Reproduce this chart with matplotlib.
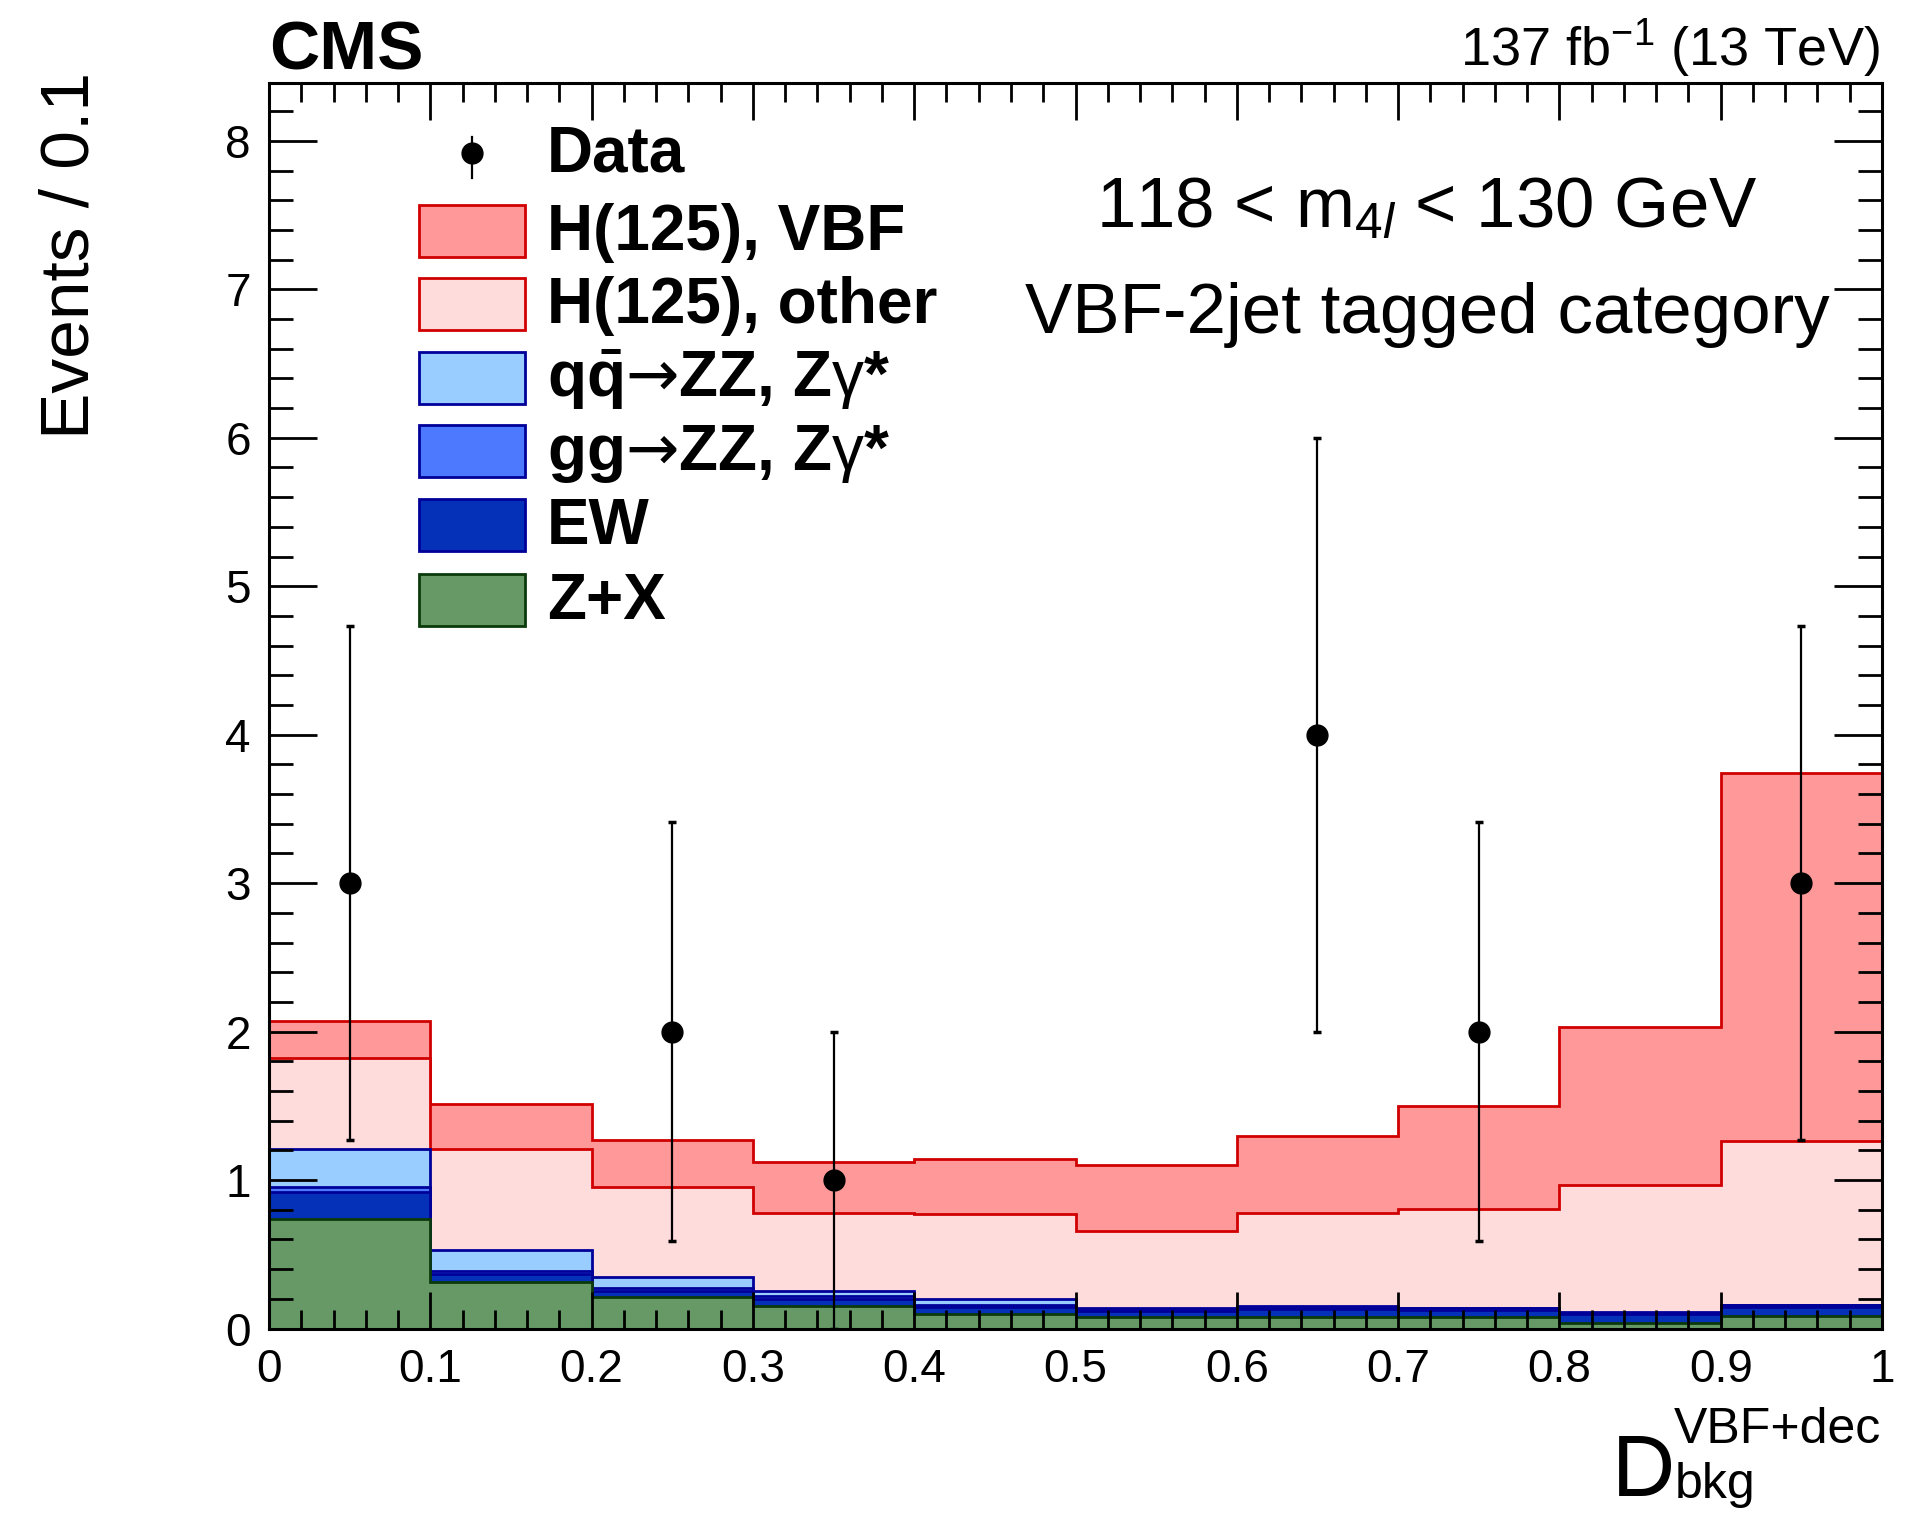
import numpy as np
import matplotlib
matplotlib.use("Agg")
import matplotlib.pyplot as plt
from matplotlib.patches import Rectangle
from matplotlib.lines import Line2D
from matplotlib.ticker import MultipleLocator, FuncFormatter

plt.rcParams['font.family'] = ['Liberation Sans', 'DejaVu Sans']
plt.rcParams['mathtext.fontset'] = 'custom'
plt.rcParams['mathtext.rm'] = 'Liberation Sans'
plt.rcParams['mathtext.it'] = 'Liberation Sans:italic'
plt.rcParams['mathtext.bf'] = 'Liberation Sans:bold'
plt.rcParams['mathtext.sf'] = 'DejaVu Sans'

# ---------------- data ----------------
bin_edges = [0.0, 0.1, 0.2, 0.3, 0.4, 0.5, 0.6, 0.7, 0.8, 0.9, 1.0]
zx    = [0.74, 0.31, 0.21, 0.15, 0.10, 0.08, 0.075, 0.08, 0.04, 0.085]
ew    = [0.18, 0.055, 0.04, 0.05, 0.045, 0.04, 0.055, 0.045, 0.055, 0.06]
gg    = [0.03, 0.02, 0.02, 0.02, 0.015, 0.01, 0.01, 0.01, 0.01, 0.01]
qq    = [0.26, 0.145, 0.08, 0.03, 0.04, 0.01, 0.01, 0.005, 0.005, 0.005]
h_other = [0.61, 0.68, 0.60, 0.53, 0.57, 0.515, 0.63, 0.665, 0.86, 1.10]
h_vbf   = [0.25, 0.30, 0.32, 0.34, 0.375, 0.445, 0.515, 0.695, 1.06, 2.485]

data_x   = [0.05, 0.25, 0.35, 0.65, 0.75, 0.95]
data_y   = [3, 2, 1, 4, 2, 3]
data_err = [1.73, 1.41, 1.0, 2.0, 1.41, 1.73]

labels = ['H(125), VBF', 'H(125), other',
          r'q$\mathbf{\bar{q}}\mathsf{→}$ZZ, Z$\mathrm{\gamma}$*',
          r'gg$\mathsf{→}$ZZ, Z$\mathrm{\gamma}$*', 'EW', 'Z+X']

# bottom -> top
components = [zx, ew, gg, qq, h_other, h_vbf]
facecolors = ['#669966', '#0431b8', '#4d79ff', '#99ccff', '#ffdcdc', '#ff9999']
edgecolors = ['#0b3a0b', '#000099', '#000099', '#000099', '#d00000', '#d00000']

W, H = 1916, 1516
fig = plt.figure(figsize=(W / 100, H / 100), dpi=100)

def fx(x):
    return x / W

def fy(y):
    return 1 - y / H

ax = fig.add_axes([fx(269), fy(1328.5), fx(1882) - fx(269), fy(83) - fy(1328.5)])

cum = np.cumsum(np.array(components, dtype=float), axis=0)
for i in range(len(components) - 1, -1, -1):
    ax.stairs(cum[i], bin_edges, baseline=0, fill=True,
              facecolor=facecolors[i], edgecolor=edgecolors[i], linewidth=2.0, zorder=1)

ax.errorbar(data_x, data_y, yerr=data_err, fmt='o', color='black', ms=15,
            elinewidth=1.6, capsize=3, capthick=2.5, zorder=5)

ax.set_xlim(0, 1)
ax.set_ylim(0, 8.39)
ax.set_axisbelow(False)
ax.xaxis.set_major_locator(MultipleLocator(0.1))
ax.xaxis.set_minor_locator(MultipleLocator(0.02))
ax.yaxis.set_major_locator(MultipleLocator(1))
ax.yaxis.set_minor_locator(MultipleLocator(0.2))
ax.xaxis.set_major_formatter(FuncFormatter(lambda v, p: f'{v:g}'))
ax.yaxis.set_major_formatter(FuncFormatter(lambda v, p: f'{v:g}'))
ax.tick_params(which='both', direction='in', top=True, right=True, width=2, color='black')
ax.tick_params(axis='x', which='major', length=26.9, pad=14, labelsize=33)
ax.tick_params(axis='x', which='minor', length=13.4)
ax.tick_params(axis='y', which='major', length=34.6, pad=13, labelsize=33)
ax.tick_params(axis='y', which='minor', length=17.3)
for s in ax.spines.values():
    s.set_linewidth(2.2)
    s.set_zorder(6)

# ---------------- texts ----------------
fig.text(fx(269), fy(69), 'CMS', fontsize=50, fontweight='bold', ha='left', va='baseline')
fig.text(fx(1880), fy(66), r'137 fb$^{\mathregular{-1}}$ (13 TeV)', fontsize=39,
         ha='right', va='baseline')
fig.text(fx(71), fy(72), 'Events / 0.1', fontsize=50, rotation=90, ha='center', va='top')

fig.text(fx(1427), fy(228), r'118 < m$_{4\mathit{l}}$ < 130 GeV', fontsize=51,
         ha='center', va='baseline')
fig.text(fx(1427), fy(333), 'VBF-2jet tagged category', fontsize=51,
         ha='center', va='baseline')

fig.text(fx(1612), fy(1496), 'D', fontsize=63, ha='left', va='baseline')
fig.text(fx(1881), fy(1443), 'VBF+dec', fontsize=36, ha='right', va='baseline')
fig.text(fx(1675), fy(1498), 'bkg', fontsize=36, ha='left', va='baseline')

# ---------------- legend ----------------
row_y = [231, 304, 378, 451, 525, 600]
box_x0, box_x1, box_h = 419, 525, 52.5
text_x = 547
legend_fs = 46
# data entry
fig.add_artist(Line2D([fx(472), fx(472)], [fy(137), fy(178)], color='black', lw=1.6))
fig.add_artist(Line2D([fx(472)], [fy(153)], marker='o', ms=15, color='black'))
fig.text(fx(text_x), fy(153 + 19), 'Data', fontsize=legend_fs, fontweight='bold',
         ha='left', va='baseline')
for k, (lab, yy) in enumerate(zip(labels, row_y)):
    i = len(components) - 1 - k
    fig.add_artist(Rectangle((fx(box_x0), fy(yy + box_h / 2)), fx(box_x1) - fx(box_x0),
                             (box_h) / H, facecolor=facecolors[i], edgecolor=edgecolors[i],
                             linewidth=2.0, transform=fig.transFigure))
    fig.text(fx(text_x), fy(yy + 19), lab, fontsize=legend_fs, fontweight='bold',
             ha='left', va='baseline')

fig.savefig('out.png', dpi=100)
